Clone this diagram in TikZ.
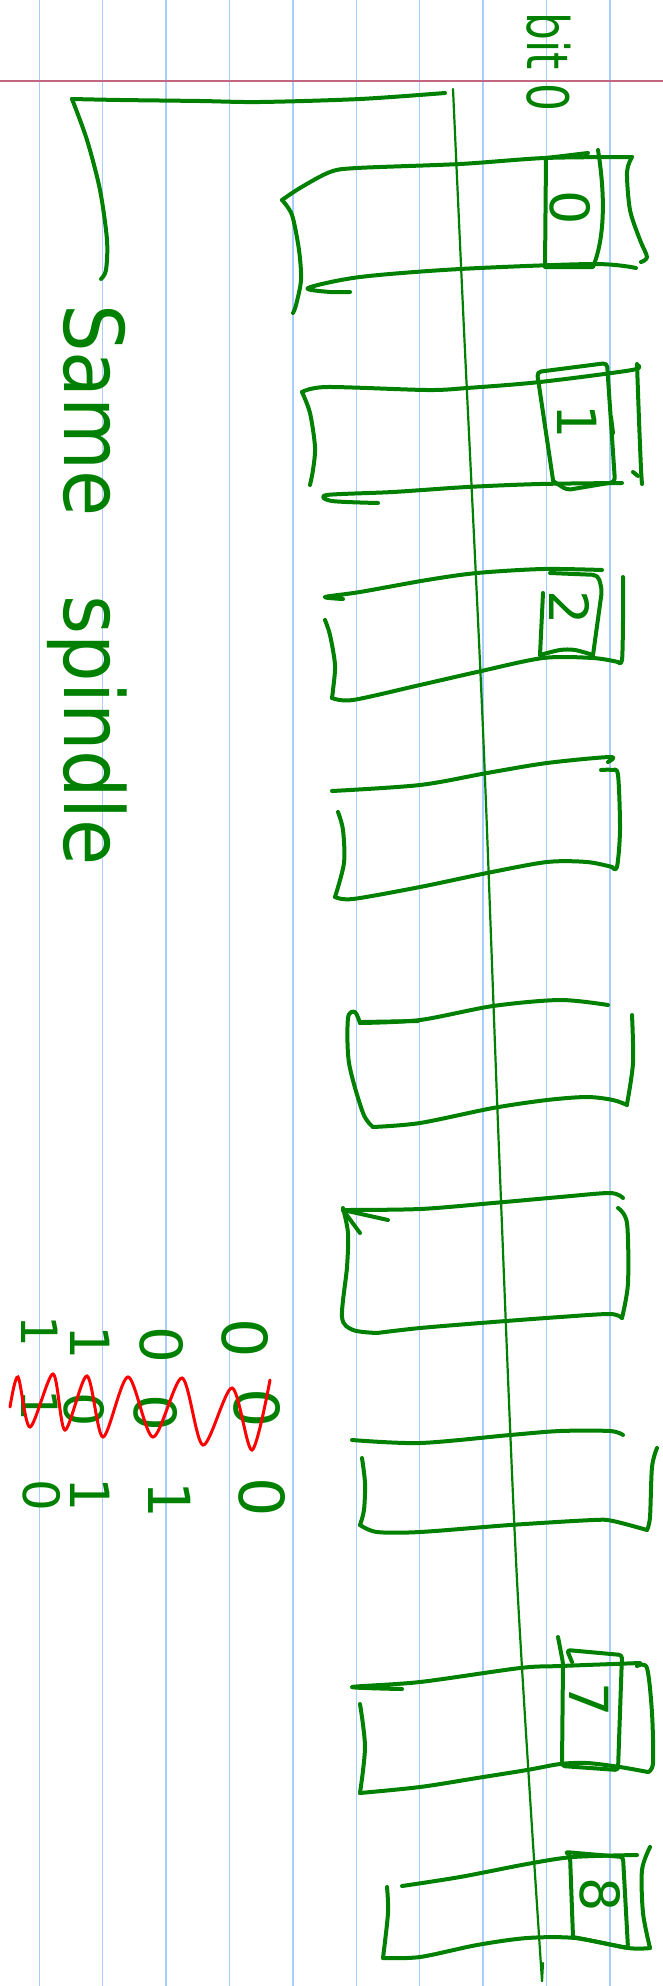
\documentclass[tikz,border=0pt]{standalone}
\usepackage{fontspec}
\newfontfamily\handfont{DejaVu Sans}
\definecolor{penGreen}{RGB}{0,128,0}
\definecolor{penRed}{RGB}{255,0,0}
\definecolor{ruleBlue}{RGB}{168,206,255}
\definecolor{marginPink}{RGB}{196,102,130}

\tikzset{
  ink/.style={draw=penGreen, line width=4pt, line cap=round, line join=round},
  axisline/.style={draw=penGreen, line width=2.2pt, line cap=round},
  hand/.style={text=penGreen, rotate=-90, inner sep=0pt, font=\handfont\fontsize{#1}{#1}\selectfont},
}

\begin{document}
\begin{tikzpicture}[x=1pt, y=-1pt]
\fill[white] (0,0) rectangle (663,1986);
\useasboundingbox (0,0) rectangle (663,1986);
%% ---- ruled paper ----
\foreach \k in {0,...,9}
  \draw[ruleBlue, line width=1.5pt] ({39.3+63.4*\k},0) -- ({39.3+63.4*\k},1986);
\draw[marginPink, line width=2pt] (0,80.7) -- (663,80.7);

%% ---- spindle and bracket ----
\draw[axisline] plot[smooth] coordinates {(453,89) (464,330) (483,730) (499,1150) (517,1580) (542,1981)};
\draw[axisline] (542,1981) -- (543,1963);
\draw[ink] plot[smooth] coordinates {(445,93) (360,99) (260,102) (200,101) (120,100) (72,99)};
\draw[ink] plot[smooth] coordinates {(72,99) (87,140) (100,190) (107,240) (106,270) (101,279)};
\node[hand=75, yscale=1.1, anchor=base west] (samespindle) at (64,304) {Same\hspace{1.05em}spindle};
\node[hand=44, yscale=1.3, anchor=base west] (bitzero) at (527,12) {bit 0};

%% ---- platter 0 ----
\draw[ink] plot[smooth] coordinates {(282,200) (300,188) (330,172) (357,168) (460,164) (545,158) (632,157)};
\draw[ink] plot[smooth] coordinates {(632,157) (627,172) (630,210) (640,240) (647,257) (641,262)};
\draw[ink] plot[smooth] coordinates {(636,268) (593,264) (460,269) (360,277) (308,288) (330,292) (350,292)};
\draw[ink] plot[smooth] coordinates {(282,200) (292,215) (299,250) (301,280) (296,305) (293,313)};
\draw[ink] (598,150) .. controls (606,200) and (604,240) .. (593,267) -- (545,267) -- (546,158) -- (588,153);
\node[hand=54] (track0) at (570,208) {0};

%% ---- platter 1 ----
\draw[ink] plot[smooth] coordinates {(302,392) (327,387) (427,390) (467,388) (540,382) (632,370) (637,365)};
\draw[ink] plot[smooth] coordinates {(302,392) (310,413) (315,447) (313,470) (310,485)};
\draw[ink] plot[smooth] coordinates {(622,483) (540,484) (467,487) (393,492) (327,495) (332,501) (378,503)};
\draw[ink] plot[smooth] coordinates {(637,364) (639,420) (641,469) (642,484)};
\draw[ink] (633,472) -- (638,476);
\draw[ink, rounded corners=4pt] (553,480) -- (537,372) -- (607,363) -- (615,482) -- (567,490) -- (553,481);
\draw[ink] (611,417) -- (613,433);
\node[hand=54] (track1) at (577,422) {1};

%% ---- platter 2 ----
\draw[ink] plot[smooth] coordinates {(343,599) (325,597) (360,592) (427,580) (477,573) (543,569) (602,570)};
\draw[ink] plot[smooth] coordinates {(325,620) (330,635) (335,665) (333,690) (332,698)};
\draw[ink] plot[smooth] coordinates {(332,698) (353,700) (420,685) (477,672) (543,658) (593,658) (618,662)};
\draw[ink] plot[smooth] coordinates {(623,577) (623,620) (622,660) (618,662)};
\draw[ink] (543,593) -- (540,655);
\draw[ink, rounded corners=5pt] (550,573) -- (598,575) -- (602,590) -- (593,655);
\draw[ink] plot[smooth] coordinates {(540,655) (560,650) (575,650) (593,655)};
\node[hand=54] (track2) at (570,608) {2};

%% ---- platter 3 ----
\draw[ink] plot[smooth] coordinates {(332,791) (420,785) (487,773) (547,763) (610,757) (608,762)};
\draw[ink] plot[smooth] coordinates {(338,812) (343,830) (344,863) (335,897)};
\draw[ink] plot[smooth] coordinates {(335,897) (353,899) (420,887) (487,873) (547,862) (587,862) (612,867)};
\draw[ink] plot[smooth] coordinates {(601,770) (612,770) (618,775) (620,830) (617,867) (612,867)};

%% ---- platter 4 ----
\draw[ink] plot[smooth] coordinates {(360,1023) (420,1020) (493,1006) (560,1000) (608,1005)};
\draw[ink] plot[smooth] coordinates {(360,1023) (355,1012) (348,1018) (349,1063) (363,1113) (373,1127)};
\draw[ink] plot[smooth] coordinates {(373,1127) (420,1123) (493,1108) (547,1100) (587,1097) (613,1100) (627,1105)};
\draw[ink] plot[smooth] coordinates {(632,1015) (633,1063) (627,1104)};
\draw[ink] (362,1022) -- (418,1021);

%% ---- platter 5 ----
\draw[ink] plot[smooth] coordinates {(343,1210) (420,1209) (493,1203) (560,1197) (610,1193) (623,1198)};
\draw[ink] (343,1210) -- (388,1220);
\draw[ink] (343,1210) -- (360,1233);
\draw[ink] plot[smooth] coordinates {(343,1208) (348,1233) (347,1267) (342,1317) (353,1330) (377,1333)};
\draw[ink] plot[smooth] coordinates {(377,1333) (420,1328) (493,1322) (560,1317) (610,1314) (622,1318)};
\draw[ink] plot[smooth] coordinates {(618,1208) (627,1223) (628,1283) (622,1318)};

%% ---- platter 6 ----
\draw[ink] plot[smooth] coordinates {(352,1440) (420,1443) (510,1435) (560,1431) (610,1431) (623,1435)};
\draw[ink] plot[smooth] coordinates {(362,1458) (365,1483) (364,1510) (360,1525)};
\draw[ink] plot[smooth] coordinates {(360,1525) (377,1532) (420,1532) (510,1525) (593,1520) (613,1521) (647,1530)};
\draw[ink] plot[smooth] coordinates {(657,1448) (652,1467) (650,1517) (647,1530)};

%% ---- platter 7 ----
\draw[ink] plot[smooth] coordinates {(402,1689) (352,1687) (420,1682) (520,1668) (560,1666) (640,1663)};
\draw[ink] plot[smooth] coordinates {(360,1704) (365,1747) (360,1793)};
\draw[ink] plot[smooth] coordinates {(360,1793) (420,1787) (477,1778) (527,1770) (560,1764) (587,1763) (620,1767) (648,1772)};
\draw[ink] plot[smooth] coordinates {(637,1666) (647,1668) (652,1713) (653,1763) (648,1772)};
\draw[ink, rounded corners=3pt] (558,1637) -- (563,1663) -- (562,1766) -- (618,1770) -- (622,1655) -- (567,1650) -- (572,1662);
\node[hand=54] (track7) at (589,1700) {7};

%% ---- platter 8 ----
\draw[ink] plot[smooth] coordinates {(402,1886) (460,1877) (527,1864) (573,1857) (637,1855)};
\draw[ink] plot[smooth] coordinates {(387,1887) (388,1913) (383,1958)};
\draw[ink] plot[smooth] coordinates {(383,1958) (420,1957) (477,1945) (527,1938) (575,1938) (628,1948) (650,1948)};
\draw[ink] plot[smooth] coordinates {(650,1847) (642,1870) (643,1913) (650,1948)};
\draw[ink, rounded corners=3pt] (573,1937) -- (570,1855) -- (565,1852) -- (623,1857) -- (628,1948) -- (573,1937);
\node[hand=54] (track8) at (600,1895) {8};

%% ---- scribbled bits ----
\foreach \x/\y/\d/\s [count=\i] in {245/1338/0/62, 257/1408/0/62, 262/1497/0/62,
                                    162/1345/0/58, 156/1413/0/58, 170/1500/1/58,
                                    90/1343/1/54, 84/1410/0/54, 90/1495/1/54,
                                    40/1331/1/50, 40/1405/1/50, 42/1495/0/50}
  \node[hand=\s] (bit\i) at (\x,\y) {\d};
\draw[penRed, line width=3pt, line cap=round] plot[smooth] coordinates {(10,1407) (18,1377) (30,1427) (53,1374) (65,1430) (87,1376) (103,1437) (128,1377) (153,1437) (182,1378) (203,1445) (232,1388) (252,1450) (270,1380)};
\end{tikzpicture}
\end{document}
